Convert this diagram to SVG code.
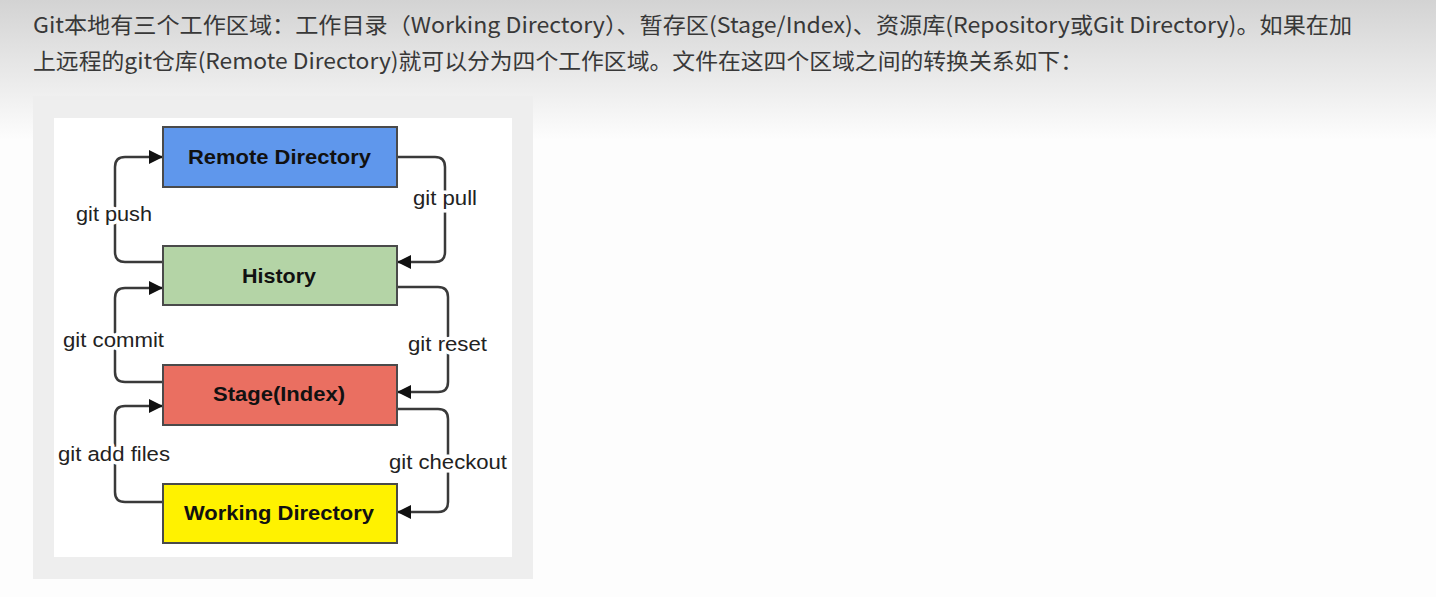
<svg xmlns="http://www.w3.org/2000/svg" width="1436" height="597" viewBox="0 0 1436 597">
<defs>
<linearGradient id="bg" x1="0" y1="0" x2="0" y2="140" gradientUnits="userSpaceOnUse">
<stop offset="0" stop-color="#d3d3d3"/>
<stop offset="0.6" stop-color="#ececec"/>
<stop offset="1" stop-color="#fdfdfd"/>
</linearGradient>
<marker id="arr" markerUnits="userSpaceOnUse" markerWidth="16" markerHeight="14" refX="14" refY="7" orient="auto">
<path d="M0,0 L14,7 L0,14 Z" fill="#111"/>
</marker>
<style>
.hdr{font-family:"Noto Sans CJK SC","Noto Sans",sans-serif;font-size:22px;fill:#383838}
.box{stroke:#4a4a4a;stroke-width:2}
.bt{font-family:"Liberation Sans",Arial,sans-serif;font-weight:bold;font-size:21px;fill:#111}
.lbl{font-family:"Liberation Sans",Arial,sans-serif;font-size:20.5px;fill:#222;stroke:#fff;stroke-width:7;paint-order:stroke;stroke-linejoin:round}
.con{fill:none;stroke:#3a3a3a;stroke-width:2.5;marker-end:url(#arr)}
</style>
</defs>
<rect width="1436" height="597" fill="#fdfdfd"/>
<rect width="1436" height="140" fill="url(#bg)"/>
<text class="hdr" x="33" y="33" textLength="1319" lengthAdjust="spacingAndGlyphs">Git本地有三个工作区域：工作目录（Working Directory）、暂存区(Stage/Index)、资源库(Repository或Git Directory)。如果在加</text>
<text class="hdr" x="33" y="69" textLength="1050" lengthAdjust="spacingAndGlyphs">上远程的git仓库(Remote Directory)就可以分为四个工作区域。文件在这四个区域之间的转换关系如下：</text>
<rect x="33" y="96" width="500" height="483" fill="#eeeeee"/>
<rect x="54" y="118" width="458" height="439" fill="#ffffff"/>
<g id="connectors">
<path class="con" d="M163,262 H125 Q115,262 115,252 V167 Q115,157 125,157 H163"/>
<path class="con" d="M163,382 H125 Q115,382 115,372 V298 Q115,288 125,288 H163"/>
<path class="con" d="M163,502 H125 Q115,502 115,492 V416 Q115,406 125,406 H163"/>
<path class="con" d="M397,157 H435 Q445,157 445,167 V252 Q445,262 435,262 H397"/>
<path class="con" d="M397,287 H438 Q448,287 448,297 V382 Q448,392 438,392 H397"/>
<path class="con" d="M397,409 H438 Q448,409 448,419 V502 Q448,512 438,512 H397"/>
<text class="lbl" x="76" y="221" textLength="76" lengthAdjust="spacingAndGlyphs">git push</text>
<text class="lbl" x="413" y="205" textLength="64" lengthAdjust="spacingAndGlyphs">git pull</text>
<text class="lbl" x="63" y="347" textLength="101" lengthAdjust="spacingAndGlyphs">git commit</text>
<text class="lbl" x="408" y="351" textLength="79" lengthAdjust="spacingAndGlyphs">git reset</text>
<text class="lbl" x="58" y="461" textLength="112" lengthAdjust="spacingAndGlyphs">git add files</text>
<text class="lbl" x="389" y="469" textLength="118" lengthAdjust="spacingAndGlyphs">git checkout</text>
</g>
<g id="remote">
<rect class="box" x="163" y="127" width="234" height="60" fill="#5f97ec"/>
<text class="bt" x="188" y="164" textLength="183" lengthAdjust="spacingAndGlyphs">Remote Directory</text>
</g>
<g id="history">
<rect class="box" x="163" y="246" width="234" height="59" fill="#b4d4a6"/>
<text class="bt" x="242" y="283" textLength="74" lengthAdjust="spacingAndGlyphs">History</text>
</g>
<g id="stage">
<rect class="box" x="163" y="365" width="234" height="60" fill="#ea6f61"/>
<text class="bt" x="213" y="401" textLength="132" lengthAdjust="spacingAndGlyphs">Stage(Index)</text>
</g>
<g id="working">
<rect class="box" x="163" y="484" width="234" height="59" fill="#fff200"/>
<text class="bt" x="184" y="520" textLength="190" lengthAdjust="spacingAndGlyphs">Working Directory</text>
</g>
</svg>
